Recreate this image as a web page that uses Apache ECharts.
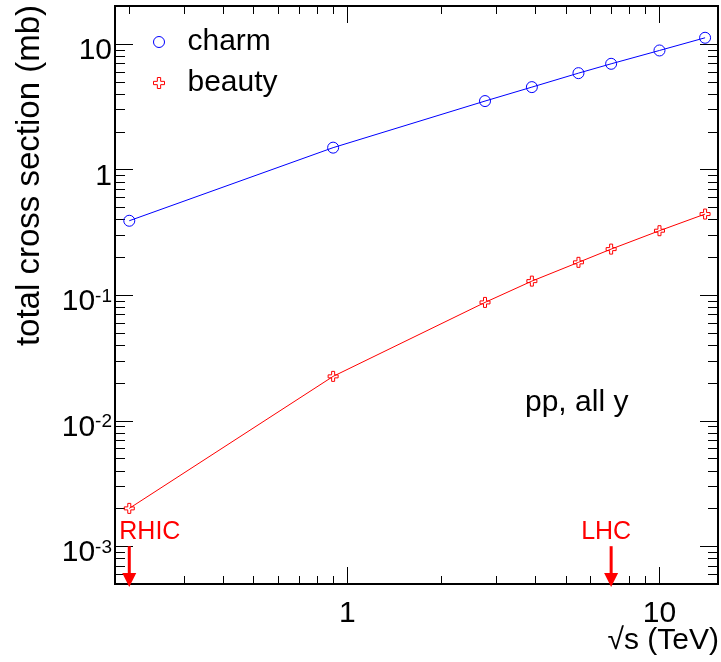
<!DOCTYPE html>
<html>
<head>
<meta charset="utf-8">
<script src="https://cdn.jsdelivr.net/npm/echarts@6/dist/echarts.min.js"></script>
<style>
  html, body { margin: 0; padding: 0; background: #fff; }
  #chart { width: 721px; height: 662px; }
</style>
</head>
<body>
<div id="chart"></div>
<script>
var energies = [0.2, 0.9, 2.76, 3.9, 5.5, 7, 10, 14];
var charm = [0.39, 1.49, 3.5, 4.52, 5.84, 6.93, 8.85, 11.17];
var beauty = [0.0020, 0.0225, 0.0873, 0.129, 0.182, 0.232, 0.325, 0.441];

var xMin = 0.18, xMax = 15.4;
var yMin = 0.0005, yMax = 20;
var xMajor = [1, 10];
var xMinor = [0.2, 0.3, 0.4, 0.5, 0.6, 0.7, 0.8, 0.9, 2, 3, 4, 5, 6, 7, 8, 9];
var yMajor = [0.001, 0.01, 0.1, 1, 10];
var yMinor = [0.0006, 0.0007, 0.0008, 0.0009,
  0.002, 0.003, 0.004, 0.005, 0.006, 0.007, 0.008, 0.009,
  0.02, 0.03, 0.04, 0.05, 0.06, 0.07, 0.08, 0.09,
  0.2, 0.3, 0.4, 0.5, 0.6, 0.7, 0.8, 0.9,
  2, 3, 4, 5, 6, 7, 8, 9];

var markerX = [0.2, 7];
var markerNames = ['RHIC', 'LHC'];
var markerTop = 0.001;

var FONT = '"Liberation Sans", Arial, Helvetica, sans-serif';
var RED = '#ff0000';
var BLUE = '#0000ff';
var crossPath = 'path://M3.5,0 H6.5 V3.5 H10 V6.5 H6.5 V10 H3.5 V6.5 H0 V3.5 H3.5 Z';

var chart = echarts.init(document.getElementById('chart'));

function pairs(xs, ys) {
  return xs.map(function (x, i) { return [x, ys[i]]; });
}

function powLabel(v) {
  var e = Math.log10(v);
  var r = Math.round(e);
  if (Math.abs(e - r) > 1e-6) return '';
  if (r === 0) return '{b|1}';
  if (r === 1) return '{b|10}';
  return '{b|10}{s|' + r + '}';
}

function tickLine(x1, y1, x2, y2) {
  return { type: 'line', shape: { x1: x1, y1: y1, x2: x2, y2: y2 },
    style: { stroke: '#000', lineWidth: 1 } };
}

function renderXTick(params, api) {
  var cs = params.coordSys;
  var p = api.coord([api.value(0), api.value(1)]);
  var len = api.value(2) === 1 ? 17 : 8;
  var x = Math.round(p[0]) + 0.5;
  return { type: 'group', children: [
    tickLine(x, cs.y + cs.height, x, cs.y + cs.height - len),
    tickLine(x, cs.y, x, cs.y + len)
  ] };
}

function renderYTick(params, api) {
  var cs = params.coordSys;
  var p = api.coord([api.value(0), api.value(1)]);
  var len = api.value(2) === 1 ? 18 : 10;
  var y = Math.round(p[1]) + 0.5;
  return { type: 'group', children: [
    tickLine(cs.x, y, cs.x + len, y),
    tickLine(cs.x + cs.width, y, cs.x + cs.width - len, y)
  ] };
}

function renderArrow(params, api) {
  var cs = params.coordSys;
  var p = api.coord([api.value(0), api.value(1)]);
  var name = markerNames[api.value(2)];
  var bottom = cs.y + cs.height;
  var left = name === 'RHIC';
  return { type: 'group', children: [
    { type: 'rect', shape: { x: p[0] - 1.5, y: p[1], width: 3, height: bottom - p[1] - 10 },
      style: { fill: RED } },
    { type: 'polygon', shape: { points: [[p[0] - 7, bottom - 11], [p[0] + 7, bottom - 11], [p[0], bottom + 3]] },
      style: { fill: RED } },
    { type: 'text', x: left ? p[0] - 10 : p[0] - 5, y: p[1] - 2,
      style: { text: name, fill: RED, fontSize: 25, fontFamily: FONT,
        align: left ? 'left' : 'center', verticalAlign: 'bottom' } }
  ] };
}

var xTickData = xMajor.map(function (v) { return [v, yMin, 1]; })
  .concat(xMinor.map(function (v) { return [v, yMin, 0]; }));
var yTickData = yMajor.map(function (v) { return [xMin, v, 1]; })
  .concat(yMinor.map(function (v) { return [xMin, v, 0]; }));
var arrowData = markerX.map(function (x, i) { return [x, markerTop, i]; });

var option = {
  animation: false,
  backgroundColor: '#fff',
  grid: {
    left: 115, top: 6, right: 1, bottom: 78,
    show: true, borderColor: '#000', borderWidth: 2, backgroundColor: 'transparent'
  },
  legend: {
    orient: 'vertical',
    left: 153, top: 27, padding: 0,
    itemWidth: 11, itemHeight: 11, itemGap: 11,
    textStyle: { fontSize: 30, fontFamily: FONT, color: '#000', padding: [0, 0, 0, 18] },
    itemStyle: { borderWidth: 1 },
    data: [{ name: 'charm', icon: 'circle' }, { name: 'beauty', icon: crossPath }]
  },
  xAxis: {
    type: 'log', logBase: 10, min: xMin, max: xMax,
    axisLine: { show: false }, axisTick: { show: false }, splitLine: { show: false },
    axisLabel: {
      margin: 15, color: '#000', fontSize: 30, fontFamily: FONT,
      formatter: function (v) { return powLabel(v).replace(/\{b\|(.*)\}/, '$1'); }
    }
  },
  yAxis: {
    type: 'log', logBase: 10, min: yMin, max: yMax,
    axisLine: { show: false }, axisTick: { show: false }, splitLine: { show: false },
    axisLabel: {
      margin: 3, color: '#000', padding: [14, 0, 0, 0],
      formatter: powLabel,
      rich: {
        b: { fontSize: 30, fontFamily: FONT, color: '#000', lineHeight: 30 },
        s: { fontSize: 19, fontFamily: FONT, color: '#000', lineHeight: 19, verticalAlign: 'top' }
      }
    }
  },
  graphic: [
    { type: 'text', x: 30, y: 5, rotation: Math.PI / 2,
      style: { text: 'total cross section (mb)', fill: '#000', fontSize: 33, fontFamily: FONT,
        align: 'right', verticalAlign: 'middle' } },
    { type: 'text', x: 719, y: 641,
      style: { text: '\u221As (TeV)', fill: '#000', fontSize: 30, fontFamily: FONT,
        align: 'right', verticalAlign: 'middle' } },
    { type: 'text', x: 525, y: 403,
      style: { text: 'pp, all y', fill: '#000', fontSize: 30, fontFamily: FONT,
        align: 'left', verticalAlign: 'middle' } }
  ],
  series: [
    {
      name: 'charm', type: 'line', data: pairs(energies, charm),
      symbol: 'circle', symbolSize: 11,
      lineStyle: { color: BLUE, width: 1 },
      itemStyle: { color: 'rgba(255,255,255,0)', borderColor: BLUE, borderWidth: 1 },
      z: 3
    },
    {
      name: 'beauty', type: 'line', data: pairs(energies, beauty),
      symbol: crossPath, symbolSize: 10,
      lineStyle: { color: RED, width: 1 },
      itemStyle: { color: 'rgba(255,255,255,0)', borderColor: RED, borderWidth: 1 },
      z: 3
    },
    { type: 'custom', name: 'xticks', data: xTickData, renderItem: renderXTick, silent: true, z: 2 },
    { type: 'custom', name: 'yticks', data: yTickData, renderItem: renderYTick, silent: true, z: 2 },
    { type: 'custom', name: 'arrows', data: arrowData, renderItem: renderArrow, silent: true, z: 4 }
  ]
};

chart.setOption(option);
</script>
</body>
</html>
